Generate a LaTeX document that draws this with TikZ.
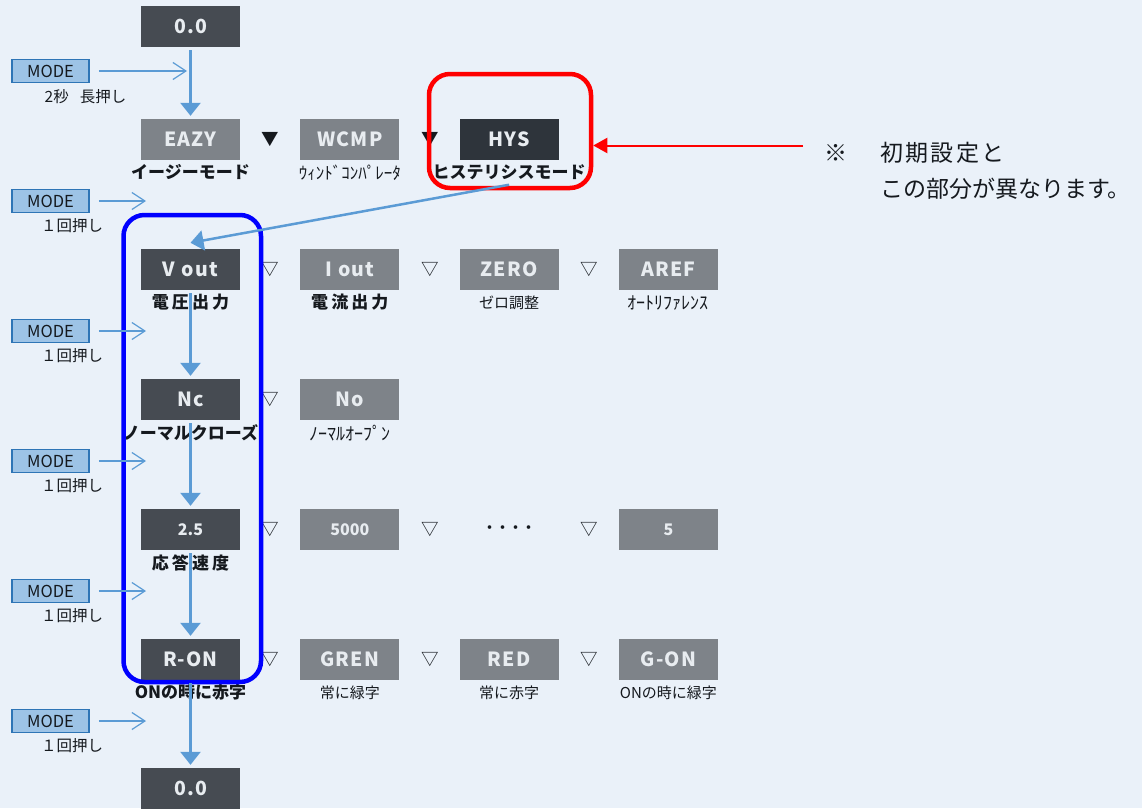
\documentclass[tikz,border=0pt]{standalone}
\usepackage{fontspec}
\setmainfont{Noto Sans CJK JP}
\usetikzlibrary{positioning,arrows.meta}
\definecolor{pagebg}{HTML}{EAF1F9}
\definecolor{segdark}{HTML}{464B52}
\definecolor{seggray}{HTML}{7E8389}
\definecolor{seghys}{HTML}{2E343B}
\definecolor{segtext}{HTML}{E8ECF0}
\definecolor{flowblue}{HTML}{5B9BD5}
\definecolor{modefill}{HTML}{9DC3E6}
\definecolor{modeline}{HTML}{2E75B6}
\definecolor{inkdark}{HTML}{15191E}

\begin{document}
\begin{tikzpicture}
[
    x=1pt, y=-1pt,
    seg/.style={minimum width=99pt, minimum height=41pt, inner sep=0pt, text=segtext,
        font=\fontsize{19.5}{19.5}\selectfont\bfseries\addfontfeature{LetterSpace=6}},
    cur/.style={seg, fill=segdark},
    alt/.style={seg, fill=seggray},
    num/.style={font=\fontsize{16}{16}\selectfont\bfseries},
    tri/.style={minimum width=16pt, inner sep=0pt, text=inkdark, font=\fontsize{17.5}{17.5}\selectfont},
    lblbold/.style={inner sep=0pt, text=inkdark, font=\fontsize{17}{17}\selectfont\bfseries},
    lblwide/.style={inner sep=0pt, text=inkdark, font=\fontsize{17}{17}\selectfont\bfseries\addfontfeature{LetterSpace=18}},
    lblthin/.style={inner sep=0pt, text=inkdark, font=\fontsize{15}{15}\selectfont},
    lblhalf/.style={inner sep=0pt, text=inkdark, font=\fontsize{18}{18}\selectfont},
    mode/.style={draw=modeline, fill=modefill, line width=1.5pt, minimum width=77pt, minimum height=23pt,
        inner sep=0pt, text=inkdark, font=\fontsize{16.5}{16.5}\selectfont},
    press/.style={inner sep=0pt, text=inkdark, font=\fontsize{15.5}{15.5}\selectfont},
    tap/.style={draw=flowblue, line width=1.2pt, -{Straight Barb[length=13pt,width=17pt]}, shorten <=9pt},
    flow/.style={draw=flowblue, line width=2.5pt, -{Triangle[width=20pt,length=13pt]}, shorten <=3pt, shorten >=3pt},
    hiframe/.style={draw, line width=4.5pt, rounded corners=21pt, inner sep=0pt},
    notefont/.style={inner sep=0pt, text=inkdark, font=\fontsize{23}{23}\selectfont},
]
\fill[pagebg] (0,0) rectangle (1142,808);
\useasboundingbox (0,0) rectangle (1142,808);

\node[cur] (start) at (190.5,26.5) {0.0};

\node[alt] (eazy) at (190.5,139.5) {EAZY};
\node[tri, right=21.5pt of eazy] (t11) {▼};
\node[alt, right=20.5pt of t11] (wcmp) {WCMP};
\node[tri, right=21.5pt of wcmp] (t12) {▼};
\node[seg, fill=seghys, right=20.5pt of t12] (hys) {HYS};
\node[lblbold, below=4pt of eazy] (eazyl) {イージーモード};
\node[lblthin, below=5pt of wcmp, font=\fontsize{17}{17}\selectfont] (wcmpl) {ｳｨﾝﾄﾞｺﾝﾊﾟﾚｰﾀ};
\node[lblbold, below=4pt of hys] (hysl) {ヒステリシスモード};

\node[cur] (vout) at (190.5,269.5) {V\,\,out};
\node[tri, right=21.5pt of vout] (t21) {▽};
\node[alt, right=20.5pt of t21] (iout) {I\,\,out};
\node[tri, right=21.5pt of iout] (t22) {▽};
\node[alt, right=20.5pt of t22] (zeroadj) {ZERO};
\node[tri, right=21.5pt of zeroadj] (t23) {▽};
\node[alt, right=20.5pt of t23] (aref) {AREF};
\node[lblwide, below=4pt of vout] (voutl) {電圧出力};
\node[lblwide, below=4pt of iout] (ioutl) {電流出力};
\node[lblthin, below=5pt of zeroadj] (zeroadjl) {ゼロ調整};
\node[lblhalf, below=5pt of aref] (arefl) {ｵｰﾄﾘﾌｧﾚﾝｽ};

\node[cur] (nc) at (190.5,399.5) {Nc};
\node[tri, right=21.5pt of nc] (t31) {▽};
\node[alt, right=20.5pt of t31] (no) {No};
\node[lblbold, below=4pt of nc] (ncl) {ノーマルクローズ};
\node[lblhalf, below=5pt of no] (nol) {ﾉｰﾏﾙｵｰﾌﾟﾝ};

\node[cur, num] (resp) at (190.5,529.5) {2.5};
\node[tri, right=21.5pt of resp] (t41) {▽};
\node[alt, num, right=20.5pt of t41] (r5000) {5000};
\node[tri, right=21.5pt of r5000] (t42) {▽};
\node[minimum width=99pt, inner sep=0pt, text=inkdark, font=\fontsize{13}{13}\selectfont\bfseries, right=20.5pt of t42] (dots) {・・・・};
\node[tri, right=21.5pt of dots] (t43) {▽};
\node[alt, num, right=20.5pt of t43] (r5) {5};
\node[lblwide, below=4pt of resp] (respl) {応答速度};

\node[cur] (ron) at (190.5,659.5) {R-ON};
\node[tri, right=21.5pt of ron] (t51) {▽};
\node[alt, right=20.5pt of t51] (gren) {GREN};
\node[tri, right=21.5pt of gren] (t52) {▽};
\node[alt, right=20.5pt of t52] (red) {RED};
\node[tri, right=21.5pt of red] (t53) {▽};
\node[alt, right=20.5pt of t53] (gon) {G-ON};
\node[lblbold, below=4pt of ron] (ronl) {ONの時に赤字};
\node[lblthin, below=5pt of gren] (grenl) {常に緑字};
\node[lblthin, below=5pt of red] (redl) {常に赤字};
\node[lblthin, below=5pt of gon] (gonl) {ONの時に緑字};

\node[cur] (endzero) at (190.5,788.5) {0.0};

\node[hiframe, draw=red, minimum width=162pt, minimum height=114pt] (hysframe) at (510,131) {};
\node[hiframe, draw=blue, minimum width=137.5pt, minimum height=467pt] (outframe) at (192.25,448.5) {};

\node[mode] (m1) at (50.5,71) {MODE};
\node[mode] (m2) at (50.5,201) {MODE};
\node[mode] (m3) at (50.5,331) {MODE};
\node[mode] (m4) at (50.5,461) {MODE};
\node[mode] (m5) at (50.5,591) {MODE};
\node[mode] (m6) at (50.5,721) {MODE};
\node[press] (p1) at (85.5,97) {2秒\hspace{11pt}長押し};
\node[press] (p2) at (72,226) {１回押し};
\node[press] (p3) at (72,356) {１回押し};
\node[press] (p4) at (72,486) {１回押し};
\node[press] (p5) at (72,616) {１回押し};
\node[press] (p6) at (72,746) {１回押し};
\coordinate (e1) at (187,71);
\coordinate (e2) at (146,201);
\coordinate (e3) at (146,331);
\coordinate (e4) at (146,461);
\coordinate (e5) at (146,591);
\coordinate (e6) at (146,721);
\draw[tap] (m1) -- (e1);
\draw[tap] (m2) -- (e2);
\draw[tap] (m3) -- (e3);
\draw[tap] (m4) -- (e4);
\draw[tap] (m5) -- (e5);
\draw[tap] (m6) -- (e6);

\draw[flow] (start) -- (eazy);
\draw[flow, shorten <=0pt, shorten >=0pt] ([yshift=-5pt]hysl.south) -- ([yshift=6pt]vout.north);
\draw[flow] (vout.south) -- (nc.north);
\draw[flow] (nc.south) -- (resp.north);
\draw[flow] (resp.south) -- (ron.north);
\draw[flow] (ron.south) -- (endzero.north);

\node[notefont] (mark) at (836,153) {※};
\node[notefont, anchor=west, font=\fontsize{23}{23}\selectfont\addfontfeature{LetterSpace=10}] (note1) at (880,153) {初期設定と};
\node[notefont, anchor=west] (note2) at (880,189) {この部分が異なります。};
\coordinate (notetail) at (803,145.5);
\draw[red, line width=2pt, -{Triangle[width=15pt,length=14pt]}] (notetail) -- ([yshift=-14.5pt]hysframe.east);
\end{tikzpicture}
\end{document}
